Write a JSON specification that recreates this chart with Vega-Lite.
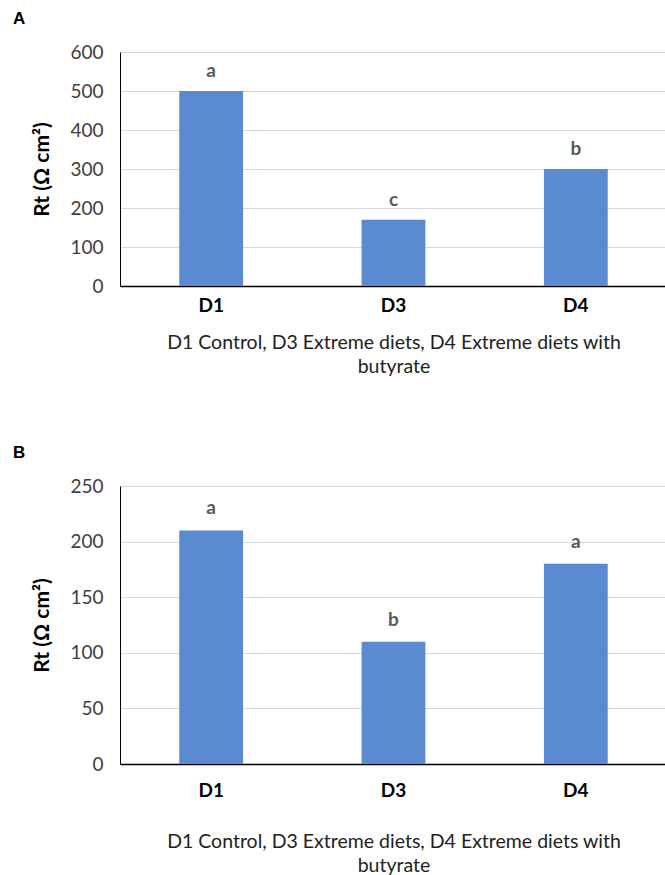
{
  "$schema": "https://vega.github.io/schema/vega-lite/v6.json",
  "background": "white",
  "padding": {"left": 12, "top": 10, "right": 0, "bottom": 0},
  "config": {"view": {"stroke": null}, "font": "Lato", "concat": {"spacing": 68}},
  "datasets": {
    "A": [
      {"diet": "D1", "rt": 500, "letter": "a"},
      {"diet": "D3", "rt": 170, "letter": "c"},
      {"diet": "D4", "rt": 300, "letter": "b"}
    ],
    "B": [
      {"diet": "D1", "rt": 210, "letter": "a"},
      {"diet": "D3", "rt": 110, "letter": "b"},
      {"diet": "D4", "rt": 180, "letter": "a"}
    ]
  },
  "vconcat": [
    {
      "title": {"text": "A", "anchor": "start", "frame": "bounds", "font": "Liberation Sans", "fontSize": 17, "fontWeight": "bold", "color": "black", "offset": 15, "dx": -19},
      "width": 547,
      "height": 234,
      "data": {"name": "A"},
      "encoding": {
        "x": {"field": "diet", "type": "nominal", "sort": null,
          "scale": {"paddingInner": 0.65, "paddingOuter": 0.325},
          "axis": {"labelAngle": 0, "labelFontSize": 19, "labelFontWeight": "bold", "labelColor": "black", "ticks": false, "domainColor": "black", "domainWidth": 1.5, "labelPadding": 10,
            "title": ["D1 Control, D3 Extreme diets, D4 Extreme diets with", "butyrate"], "titleFontSize": 19.5, "titleFontWeight": "normal", "titleColor": "#222222", "titleLineHeight": 24, "titlePadding": 18}},
        "y": {"field": "rt", "type": "quantitative",
          "scale": {"domain": [0, 600]},
          "axis": {"values": [0, 100, 200, 300, 400, 500, 600], "title": "Rt (Ω cm²)", "titleFontSize": 21, "titleFontWeight": "bold", "titleColor": "black", "labelFontSize": 19, "labelColor": "#404040", "ticks": false, "domainColor": "black", "gridColor": "#d9d9d9", "labelPadding": 17, "titlePadding": 17}}
      },
      "layer": [
        {"mark": {"type": "bar", "color": "#5a8bd1"}},
        {"mark": {"type": "text", "fontSize": 19, "fontWeight": "bold", "color": "#595959", "baseline": "alphabetic", "dy": -14}, "encoding": {"text": {"field": "letter"}}}
      ]
    },
    {
      "title": {"text": "B", "anchor": "start", "frame": "bounds", "font": "Liberation Sans", "fontSize": 17, "fontWeight": "bold", "color": "black", "offset": 15, "dx": -19},
      "width": 547,
      "height": 278,
      "data": {"name": "B"},
      "encoding": {
        "x": {"field": "diet", "type": "nominal", "sort": null,
          "scale": {"paddingInner": 0.65, "paddingOuter": 0.325},
          "axis": {"labelAngle": 0, "labelFontSize": 19, "labelFontWeight": "bold", "labelColor": "black", "ticks": false, "domainColor": "black", "domainWidth": 1.5, "labelPadding": 17,
            "title": ["D1 Control, D3 Extreme diets, D4 Extreme diets with", "butyrate"], "titleFontSize": 19.5, "titleFontWeight": "normal", "titleColor": "#222222", "titleLineHeight": 24, "titlePadding": 32}},
        "y": {"field": "rt", "type": "quantitative",
          "scale": {"domain": [0, 250]},
          "axis": {"values": [0, 50, 100, 150, 200, 250], "title": "Rt (Ω cm²)", "titleFontSize": 21, "titleFontWeight": "bold", "titleColor": "black", "labelFontSize": 19, "labelColor": "#404040", "ticks": false, "domainColor": "black", "gridColor": "#d9d9d9", "labelPadding": 17, "titlePadding": 17}}
      },
      "layer": [
        {"mark": {"type": "bar", "color": "#5a8bd1"}},
        {"mark": {"type": "text", "fontSize": 19, "fontWeight": "bold", "color": "#595959", "baseline": "alphabetic", "dy": -16}, "encoding": {"text": {"field": "letter"}}}
      ]
    }
  ]
}
